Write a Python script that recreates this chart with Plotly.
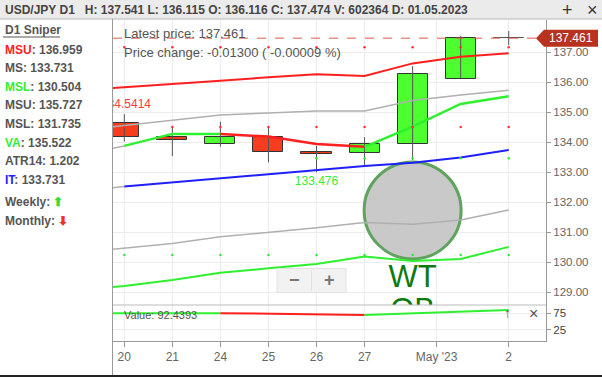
import plotly.graph_objects as go

# ---------------- data ----------------
idx = [0, 1, 2, 3, 4, 5, 6, 7, 8]
tick_pos = [0, 1, 2, 3, 4, 5, 6.5, 8]
tick_text = ["20", "21", "24", "25", "26", "27", "May '23", "2"]
price_ticks = [129, 130, 131, 132, 133, 134, 135, 136, 137]

opens  = [134.62, 134.18, 133.92, 134.18, 133.68, 133.62, 133.92, 136.116, 137.474]
highs  = [134.93, 134.49, 134.68, 134.51, 133.87, 134.16, 136.53, 137.541, 137.70]
lows   = [134.01, 133.53, 133.84, 133.32, 132.99, 133.20, 133.40, 136.115, 137.23]
closes = [134.18, 134.07, 134.18, 133.68, 133.61, 133.92, 136.26, 137.474, 137.461]

line_x = [-1, 0, 1, 2, 3, 4, 5, 6, 7, 8]
msu_red   = [135.72, 135.82, 135.93, 136.04, 136.16, 136.26, 136.20, 136.62, 136.84, 136.959]
msu_gray  = [134.37, 134.54, 134.72, 134.90, 134.97, 135.03, 135.03, 135.38, 135.57, 135.727]
va_line   = [133.53, 133.87, 134.27, 134.27, 134.18, 133.93, 133.84, 134.51, 135.27, 135.522]
it_blue   = [132.32, 132.52, 132.66, 132.78, 132.92, 133.08, 133.20, 133.31, 133.48, 133.731]
msl_gray  = [130.30, 130.46, 130.62, 130.84, 130.99, 131.14, 131.32, 131.26, 131.40, 131.735]
msl_green = [129.05, 129.20, 129.40, 129.64, 129.79, 129.93, 130.18, 130.03, 130.10, 130.504]

dots_red_top = [137.16] * 9
dots_red_mid = [134.50] * 9
dots_green_mid_x = [4, 5, 6, 7, 8]
dots_green_mid = [133.46] * 5
dots_green_low = [130.23] * 9

pane_vals = [74.4, 75.0, 75.0, 75.0, 73.5, 72.0, 69.8, 74.4, 79.0, 85.0]

latest_price = 137.461

# ---------------- layout helpers ----------------
W, H = 602, 377
L, R, T, B = 113, 56, 20, 36
PW, PH = W - L - R, H - T - B
def fx(px): return (px - L) / PW
def fy(py): return (H - B - py) / PH
split = fy(305)

FONT = "Liberation Sans, Arial, sans-serif"
RED, GREEN, BLUE, GRAY = "#ff1f1f", "#2ef02e", "#1f1fff", "#b0b0b0"
C_UP, C_DN = "#4dff2e", "#f83c1e"

fig = go.Figure()

# wicks
wx, wy = [], []
for i, h, l in zip(idx, highs, lows):
    wx += [i, i, None]
    wy += [l, h, None]
fig.add_trace(go.Scatter(x=wx, y=wy, mode="lines", line=dict(color="#555", width=1),
                         hoverinfo="skip", showlegend=False))

# bodies
body_base = [min(o, c) for o, c in zip(opens, closes)]
body_h = [abs(c - o) for o, c in zip(opens, closes)]
body_col = []
for k, (o, c) in enumerate(zip(opens, closes)):
    if k == len(opens) - 1:
        body_col.append("#555")
    else:
        body_col.append(C_UP if c >= o else C_DN)
line_col = ["#333"] * 8 + ["#555"]
fig.add_trace(go.Bar(x=idx, y=body_h, base=body_base, width=0.625,
                     marker=dict(color=body_col, line=dict(color=line_col, width=1)),
                     showlegend=False, hoverinfo="skip"))

def seg(xs, ys, a, b, color, width=2):
    fig.add_trace(go.Scatter(x=xs[a:b + 1], y=ys[a:b + 1], mode="lines",
                             line=dict(color=color, width=width),
                             showlegend=False, hoverinfo="skip"))

n = len(line_x) - 1
seg(line_x, msu_gray, 0, n, GRAY, 1.5)
seg(line_x, msl_gray, 0, n, GRAY, 1.5)
seg(line_x, msu_red, 0, n, RED, 2)
seg(line_x, msl_green, 0, n, GREEN, 2)
seg(line_x, it_blue, 0, 1, GRAY, 1.5)
seg(line_x, it_blue, 1, n, BLUE, 2)
seg(line_x, va_line, 0, 1, GRAY, 1.5)
seg(line_x, va_line, 1, 3, GREEN, 2.5)
seg(line_x, va_line, 3, 6, RED, 2.5)
seg(line_x, va_line, 6, n, GREEN, 2.5)

# dots
for xs, ys, col in [(idx, dots_red_top, "#ff3030"), (idx, dots_red_mid, "#ff3030"),
                    (dots_green_mid_x, dots_green_mid, "#33e833"), (idx, dots_green_low, "#33e833")]:
    fig.add_trace(go.Scatter(x=xs, y=ys, mode="markers", marker=dict(color=col, size=2.5),
                             showlegend=False, hoverinfo="skip"))

# clipped text labels
fig.add_trace(go.Scatter(x=[0.556], y=[135.233], mode="text", text=["134.5414"],
                         textposition="middle left", cliponaxis=True,
                         textfont=dict(color="#ff3a3a", size=12, family=FONT),
                         showlegend=False, hoverinfo="skip"))
fig.add_trace(go.Scatter(x=[4], y=[132.677], mode="text", text=["133.476"],
                         textposition="middle center", cliponaxis=True,
                         textfont=dict(color="#33ee33", size=12, family=FONT),
                         showlegend=False, hoverinfo="skip"))
fig.add_trace(go.Scatter(x=[6, 6], y=[129.42, 128.33], mode="text", text=["WT", "OB"],
                         textposition="middle center", cliponaxis=True,
                         textfont=dict(color="#0d7a0d", size=31, family=FONT),
                         showlegend=False, hoverinfo="skip"))

# lower pane
for a, b, col in [(0, 3, GREEN), (3, 6, RED), (6, n, GREEN)]:
    fig.add_trace(go.Scatter(x=line_x[a:b + 1], y=pane_vals[a:b + 1], mode="lines",
                             line=dict(color=col, width=2), xaxis="x", yaxis="y2",
                             showlegend=False, hoverinfo="skip"))

axis_common = dict(gridcolor="#ececec", zeroline=False, showline=True, linecolor="#999",
                   ticks="outside", tickcolor="#999")
fig.update_layout(
    width=W, height=H, margin=dict(l=L, r=R, t=T, b=B),
    paper_bgcolor="white", plot_bgcolor="white", showlegend=False,
    font=dict(family=FONT, color="#666"),
    xaxis=dict(range=[-0.235, 8.776], anchor="y2", tickvals=tick_pos, ticktext=tick_text,
               ticklen=5, tickfont=dict(size=12, color="#666"), **axis_common),
    yaxis=dict(domain=[split, 1], range=[128.5667, 138.0667], side="right", anchor="x",
               tickvals=price_ticks, tickformat=".2f", ticklen=4,
               tickfont=dict(size=11.5, color="#666"), **axis_common),
    yaxis2=dict(domain=[0, split], range=[-10, 100], side="right", anchor="x",
                tickvals=[25, 75], ticklen=4, tickfont=dict(size=11.5, color="#444"),
                **axis_common),
    bargap=0,
)

shapes = []
shapes.append(dict(type="rect", xref="paper", yref="paper", x0=fx(0), x1=fx(W), y0=fy(19), y1=fy(0),
                   fillcolor="#ebebeb", line=dict(width=0), layer="above"))
shapes.append(dict(type="line", xref="paper", yref="paper", x0=fx(0), x1=fx(W), y0=fy(19), y1=fy(19),
                   line=dict(color="#b8b8b8", width=1)))
shapes.append(dict(type="line", xref="paper", yref="paper", x0=fx(112.5), x1=fx(112.5), y0=fy(376), y1=fy(19),
                   line=dict(color="#999", width=1)))
shapes.append(dict(type="line", xref="paper", yref="paper", x0=fx(0), x1=fx(W), y0=fy(376), y1=fy(376),
                   line=dict(color="#222", width=2)))
shapes.append(dict(type="line", xref="paper", yref="paper", x0=0, x1=1, y0=split, y1=split,
                   line=dict(color="#bbb", width=1)))
shapes.append(dict(type="line", xref="paper", yref="paper", x0=fx(3), x1=fx(60), y0=fy(37), y1=fy(37),
                   line=dict(color="#555", width=1)))
shapes.append(dict(type="line", xref="paper", yref="y", x0=0, x1=fx(537), y0=latest_price, y1=latest_price,
                   line=dict(color="#e05a4a", width=1, dash="dash")))
hh = 8.5 / 30
p = latest_price
shapes.append(dict(type="path", xref="paper", yref="y",
                   path=f"M {fx(536)},{p} L {fx(544)},{p+hh} L {fx(598)},{p+hh} L {fx(598)},{p-hh} L {fx(544)},{p-hh} Z",
                   fillcolor="#b83220", line=dict(width=0)))
shapes.append(dict(type="circle", xref="x", yref="y", xsizemode="pixel", ysizemode="pixel",
                   xanchor=6, yanchor=131.72, x0=-48.5, x1=48.5, y0=-48.5, y1=48.5,
                   fillcolor="#c9c9c9", line=dict(color="#5ea35e", width=3), layer="between"))
shapes.append(dict(type="rect", xref="paper", yref="paper", x0=fx(277), x1=fx(346), y0=fy(292.5), y1=fy(268.5),
                   fillcolor="#f2f2f2", line=dict(color="#e2e2e2", width=1)))
shapes.append(dict(type="line", xref="paper", yref="paper", x0=fx(311.5), x1=fx(311.5), y0=fy(291), y1=fy(270),
                   line=dict(color="#e0e0e0", width=1)))
fig.update_layout(shapes=shapes)

anns = []
def ann(text, px, py, size=12, color="#555", xanchor="left"):
    anns.append(dict(text=text, x=fx(px), y=fy(py), xref="paper", yref="paper",
                     xanchor=xanchor, yanchor="middle", showarrow=False,
                     font=dict(size=size, color=color, family=FONT)))

S = "\u00a0"
ann(f"<b>USD/JPY D1{S}{S}{S}H: 137.541 L: 136.115 O: 136.116 C: 137.474 V: 602364 D: 01.05.2023</b>",
    3, 10, size=12, color="#444")
ann("+", 567, 10, size=18, color="#333", xanchor="center")
ann("×", 592, 10, size=18, color="#333", xanchor="center")

def col(t, c): return f"<span style='color:{c}'>{t}</span>"
left_lines = [
    ("D1 Sniper", 30),
    (col("MSU", "#ff2020") + ": 136.959", 50),
    ("MS: 133.731", 68.5),
    (col("MSL", "#33ee33") + ": 130.504", 87),
    ("MSU: 135.727", 105.5),
    ("MSL: 131.735", 124),
    (col("VA", "#33ee33") + ": 135.522", 142.5),
    ("ATR14: 1.202", 161),
    (col("IT", "#2020ff") + ": 133.731", 179.5),
    ("Weekly: " + col("⬆", "#33dd33"), 201.5),
    ("Monthly: " + col("⬇", "#ee3322"), 220.5),
]
for t, py in left_lines:
    ann(f"<b>{t}</b>", 3, py, size=12, color="#555")

ann("Latest price: 137.461", 122, 33, size=13, color="#555")
ann("Price change: -0.01300 ( -0.00009 %)", 122, 52, size=13, color="#555")
anns.append(dict(text="137.461", x=fx(571), y=latest_price, xref="paper", yref="y",
                 xanchor="center", yanchor="middle", showarrow=False,
                 font=dict(size=12, color="white", family=FONT)))
ann("<b>−</b>", 294, 280, size=18, color="#777", xanchor="center")
ann("<b>+</b>", 329, 280, size=18, color="#777", xanchor="center")
ann("Value: 92.4393", 122, 315, size=11, color="#555")
ann("↑", 507, 313, size=14, color="#666", xanchor="center")
ann("×", 533, 313, size=16, color="#555", xanchor="center")
fig.update_layout(annotations=anns)

fig.write_html("out.html", config={"displayModeBar": False},
               post_script="document.body.style.margin='0';document.body.style.overflow='hidden';")
